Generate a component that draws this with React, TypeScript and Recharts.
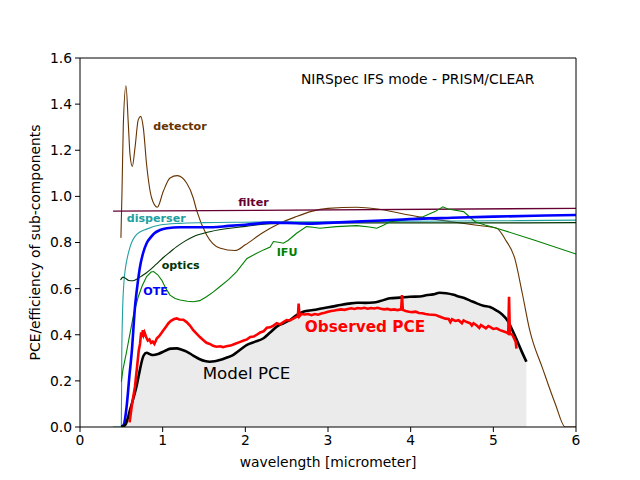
import React from "react";
import {
  ComposedChart,
  Line,
  Area,
  XAxis,
  YAxis,
  ReferenceLine,
  ReferenceDot,
  Customized,
} from "recharts";

const xTicks = [0, 1, 2, 3, 4, 5, 6];
const yTicks = [0, 0.2, 0.4, 0.6, 0.8, 1.0, 1.2, 1.4, 1.6];

type P = [number, number];

const detectorPts: P[] = [
  [0.495, 0.82], [0.508, 1.02], [0.524, 1.31], [0.556, 1.48], [0.585, 1.31],
  [0.605, 1.181], [0.633, 1.13], [0.665, 1.21], [0.705, 1.333], [0.734, 1.347],
  [0.766, 1.297], [0.806, 1.137], [0.867, 0.993], [0.935, 0.953], [1.008, 1.022],
  [1.089, 1.08], [1.177, 1.09], [1.29, 1.058], [1.37, 0.993], [1.41, 0.94],
  [1.53, 0.834], [1.69, 0.776], [1.875, 0.765], [2.0, 0.79], [2.2, 0.84],
  [2.4, 0.88], [2.6, 0.91], [2.8, 0.935], [3.0, 0.948], [3.35, 0.953],
  [3.6, 0.945], [3.9, 0.925], [4.2, 0.905], [4.5, 0.89], [4.8, 0.875],
  [5.04, 0.862], [5.15, 0.81], [5.26, 0.73], [5.35, 0.58], [5.44, 0.42],
  [5.6, 0.25], [5.75, 0.1], [5.87, 0.0], [6.0, 0.0],
];

const filterPts: P[] = [
  [0.4, 0.936], [6.0, 0.948],
];

const disperserPts: P[] = [
  [0.4, 0], [0.5, 0], [0.505, 0.3], [0.515, 0.5], [0.53, 0.62], [0.55, 0.69],
  [0.57, 0.73], [0.605, 0.78], [0.686, 0.835], [0.806, 0.858], [0.968, 0.876],
  [1.2, 0.883], [1.5, 0.886], [2.0, 0.888], [3.0, 0.89], [4.0, 0.892],
  [5.0, 0.894], [6.0, 0.897],
];

const opticsPts: P[] = [
  [0.49, 0.638], [0.52, 0.65], [0.55, 0.645], [0.59, 0.635], [0.64, 0.634],
  [0.69, 0.642], [0.746, 0.655], [0.8, 0.668], [0.847, 0.681], [0.92, 0.705],
  [1.008, 0.735], [1.1, 0.762], [1.17, 0.782], [1.27, 0.806], [1.37, 0.825],
  [1.57, 0.847], [1.975, 0.869], [2.38, 0.883], [3.0, 0.885], [4.0, 0.885],
  [5.0, 0.885], [6.0, 0.886],
];

const ifuPts: P[] = [
  [0.5, 0.196], [0.52, 0.25], [0.56, 0.32], [0.605, 0.406], [0.65, 0.49],
  [0.705, 0.565], [0.75, 0.61], [0.806, 0.652], [0.86, 0.672], [0.89, 0.674],
  [0.94, 0.66], [0.988, 0.637], [1.04, 0.6], [1.089, 0.572], [1.15, 0.557],
  [1.21, 0.551], [1.3, 0.545], [1.37, 0.543], [1.45, 0.548], [1.53, 0.565],
  [1.61, 0.585], [1.69, 0.608], [1.8, 0.64], [1.895, 0.674], [2.02, 0.731],
  [2.12, 0.75], [2.22, 0.768], [2.3, 0.78], [2.34, 0.804], [2.42, 0.8],
  [2.46, 0.797], [2.52, 0.81], [2.62, 0.84], [2.74, 0.869], [2.82, 0.866],
  [2.9, 0.862], [3.1, 0.869], [3.35, 0.873], [3.5, 0.867], [3.59, 0.862],
  [3.67, 0.875], [3.75, 0.89], [3.99, 0.9], [4.15, 0.912], [4.3, 0.935],
  [4.39, 0.955], [4.45, 0.945], [4.52, 0.941], [4.64, 0.934], [4.7, 0.915],
  [4.78, 0.89], [4.9, 0.876], [5.04, 0.862], [5.5, 0.81], [6.0, 0.75],
];

const otePts: P[] = [
  [0.5, 0], [0.53, 0.01], [0.564, 0.088], [0.6, 0.23], [0.625, 0.32],
  [0.665, 0.52], [0.7, 0.63], [0.726, 0.695], [0.76, 0.75], [0.806, 0.797],
  [0.85, 0.82], [0.9, 0.84], [0.968, 0.854], [1.05, 0.862], [1.21, 0.866],
  [1.4, 0.866], [1.61, 0.866], [1.8, 0.872], [2.0, 0.877], [2.3, 0.886],
  [2.5, 0.885], [2.78, 0.882], [3.0, 0.885], [3.5, 0.893], [3.9, 0.9],
  [4.5, 0.907], [5.0, 0.912], [5.5, 0.916], [6.0, 0.919],
];

const modelPts: P[] = [
  [0.5, 0], [0.55, 0.01], [0.605, 0.074], [0.65, 0.13], [0.686, 0.18],
  [0.72, 0.24], [0.746, 0.283], [0.77, 0.31], [0.806, 0.322], [0.85, 0.315],
  [0.887, 0.312], [0.947, 0.317], [1.0, 0.325], [1.049, 0.334], [1.1, 0.34],
  [1.17, 0.341], [1.23, 0.335], [1.29, 0.327], [1.37, 0.31], [1.45, 0.294],
  [1.51, 0.286], [1.57, 0.283], [1.63, 0.285], [1.69, 0.29], [1.77, 0.3],
  [1.85, 0.312], [1.93, 0.333], [2.02, 0.356], [2.12, 0.37], [2.22, 0.385],
  [2.3, 0.41], [2.38, 0.435], [2.46, 0.45], [2.54, 0.464], [2.62, 0.485],
  [2.7, 0.5], [2.82, 0.507], [2.94, 0.515], [3.05, 0.522], [3.15, 0.529],
  [3.25, 0.535], [3.35, 0.539], [3.45, 0.538], [3.55, 0.54], [3.63, 0.546],
  [3.75, 0.558], [3.87, 0.561], [3.99, 0.565], [4.11, 0.566], [4.2, 0.572],
  [4.27, 0.575], [4.35, 0.582], [4.43, 0.58], [4.52, 0.573], [4.58, 0.566],
  [4.64, 0.56], [4.72, 0.548], [4.8, 0.536], [4.88, 0.526], [4.96, 0.52],
  [5.04, 0.505], [5.1, 0.49], [5.18, 0.457], [5.23, 0.42], [5.28, 0.38],
  [5.34, 0.33], [5.4, 0.283],
];

const observedPts: P[] = [
  [0.6, 0.02], [0.63, 0.1], [0.665, 0.175], [0.69, 0.26], [0.71, 0.33],
  [0.726, 0.36], [0.74, 0.41], [0.75, 0.39], [0.76, 0.42], [0.77, 0.4],
  [0.78, 0.41], [0.8, 0.39], [0.82, 0.375], [0.84, 0.38], [0.86, 0.365],
  [0.88, 0.37], [0.9, 0.36], [0.93, 0.385], [0.96, 0.395], [1.0, 0.415],
  [1.04, 0.435], [1.07, 0.45], [1.1, 0.46], [1.14, 0.468], [1.17, 0.471],
  [1.2, 0.466], [1.25, 0.465], [1.29, 0.455], [1.33, 0.44], [1.37, 0.42],
  [1.41, 0.405], [1.45, 0.39], [1.49, 0.377], [1.53, 0.365], [1.57, 0.36],
  [1.61, 0.352], [1.65, 0.348], [1.7, 0.35], [1.73, 0.346], [1.77, 0.35],
  [1.82, 0.353], [1.87, 0.36], [1.93, 0.368], [1.98, 0.375], [2.02, 0.38],
  [2.06, 0.39], [2.1, 0.392], [2.14, 0.4], [2.18, 0.41], [2.22, 0.415],
  [2.26, 0.43], [2.3, 0.432], [2.34, 0.44], [2.38, 0.45], [2.42, 0.445],
  [2.46, 0.455], [2.5, 0.464], [2.54, 0.462], [2.58, 0.47], [2.62, 0.478],
  [2.635, 0.478], [2.645, 0.535], [2.655, 0.48], [2.68, 0.49], [2.72, 0.488],
  [2.76, 0.49], [2.8, 0.485], [2.84, 0.49], [2.88, 0.487], [2.92, 0.492],
  [2.96, 0.495], [3.0, 0.5], [3.04, 0.503], [3.08, 0.505], [3.12, 0.508],
  [3.16, 0.51], [3.2, 0.508], [3.24, 0.512], [3.28, 0.515], [3.32, 0.512],
  [3.36, 0.516], [3.4, 0.514], [3.44, 0.517], [3.48, 0.513], [3.52, 0.516],
  [3.56, 0.514], [3.6, 0.517], [3.64, 0.513], [3.68, 0.51], [3.72, 0.512],
  [3.76, 0.508], [3.8, 0.51], [3.84, 0.507], [3.885, 0.51], [3.895, 0.572],
  [3.905, 0.508], [3.94, 0.503], [3.98, 0.5], [4.02, 0.498], [4.06, 0.5],
  [4.1, 0.494], [4.14, 0.493], [4.18, 0.49], [4.22, 0.488], [4.26, 0.487],
  [4.3, 0.486], [4.34, 0.48], [4.38, 0.475], [4.42, 0.47], [4.46, 0.468],
  [4.48, 0.455], [4.5, 0.467], [4.54, 0.46], [4.58, 0.463], [4.62, 0.45],
  [4.64, 0.462], [4.68, 0.455], [4.72, 0.45], [4.74, 0.44], [4.76, 0.45],
  [4.8, 0.44], [4.83, 0.43], [4.85, 0.442], [4.88, 0.435], [4.91, 0.428],
  [4.94, 0.438], [4.97, 0.432], [5.0, 0.425], [5.04, 0.428], [5.08, 0.42],
  [5.12, 0.415], [5.16, 0.41], [5.18, 0.405], [5.19, 0.565], [5.2, 0.405],
  [5.23, 0.4], [5.25, 0.385], [5.27, 0.37], [5.28, 0.34],
];

type Lbl = { text: string; x: number; y: number; color: string; size: number; bold: boolean };
const labels: Lbl[] = [
  { text: "NIRSpec IFS mode - PRISM/CLEAR", x: 2.673, y: 1.487, color: "#000000", size: 13.89, bold: false },
  { text: "detector", x: 0.887, y: 1.289, color: "#663300", size: 11.11, bold: true },
  { text: "filter", x: 1.915, y: 0.96, color: "#660033", size: 11.11, bold: true },
  { text: "disperser", x: 0.565, y: 0.89, color: "#22a0a0", size: 11.11, bold: true },
  { text: "optics", x: 0.988, y: 0.685, color: "#003300", size: 11.11, bold: true },
  { text: "IFU", x: 2.379, y: 0.742, color: "#008000", size: 11.11, bold: true },
  { text: "OTE", x: 0.766, y: 0.571, color: "#0000ff", size: 11.11, bold: true },
  { text: "Observed PCE", x: 2.72, y: 0.413, color: "#ff0000", size: 15.28, bold: true },
  { text: "Model PCE", x: 1.484, y: 0.208, color: "#000000", size: 16.67, bold: false },
];

const toData = (pts: P[]) => pts.map(([x, y]) => ({ x, y }));

const FONT = "DejaVu Sans, sans-serif";

const AxisTitles = () => (
  <g>
    <text x={328} y={467} textAnchor="middle" fontFamily={FONT} fontSize={13.89} fill="#000">
      wavelength [micrometer]
    </text>
    <text
      x={0}
      y={0}
      transform="translate(40,242.5) rotate(-90)"
      textAnchor="middle"
      fontFamily={FONT}
      fontSize={13.89}
      fill="#000"
    >
      PCE/efficiency of sub-components
    </text>
  </g>
);

export default function App() {
  const tickStyle = { fill: "#000", fontSize: 13.89, fontFamily: FONT };
  return (
    <div style={{ position: "absolute", left: 0, top: 0, width: 640, height: 480, background: "#fff" }}>
      <ComposedChart width={640} height={480} margin={{ top: 58, right: 64, bottom: 23, left: 20 }}>
        <XAxis
          type="number"
          dataKey="x"
          domain={[0, 6]}
          ticks={xTicks}
          allowDataOverflow
          height={30}
          tickSize={5}
          tickMargin={3}
          stroke="#000"
          tick={tickStyle}
          tickLine={{ stroke: "#000" }}
          axisLine={{ stroke: "#000" }}
        />
        <YAxis
          type="number"
          domain={[0, 1.6]}
          ticks={yTicks}
          allowDataOverflow
          width={60}
          tickSize={5}
          tickMargin={3}
          stroke="#000"
          tick={tickStyle}
          tickLine={{ stroke: "#000" }}
          axisLine={{ stroke: "#000" }}
          tickFormatter={(v: number) => v.toFixed(1)}
        />
        <Area
          data={toData(modelPts)}
          dataKey="y"
          type="monotone"
          stroke="none"
          fill="#ebebeb"
          fillOpacity={1}
          isAnimationActive={false}
        />
        <Line data={toData(detectorPts)} dataKey="y" type="monotone" stroke="#663300" strokeWidth={1.1} dot={false} isAnimationActive={false} />
        <Line data={toData(filterPts)} dataKey="y" type="linear" stroke="#660033" strokeWidth={1.3} dot={false} isAnimationActive={false} />
        <Line data={toData(disperserPts)} dataKey="y" type="monotone" stroke="#22a0a0" strokeWidth={1.1} dot={false} isAnimationActive={false} />
        <Line data={toData(opticsPts)} dataKey="y" type="monotone" stroke="#003300" strokeWidth={1.1} dot={false} isAnimationActive={false} />
        <Line data={toData(ifuPts)} dataKey="y" type="linear" stroke="#008000" strokeWidth={1.1} dot={false} isAnimationActive={false} />
        <Line data={toData(otePts)} dataKey="y" type="monotone" stroke="#0000ff" strokeWidth={2.6} dot={false} isAnimationActive={false} />
        <Line data={toData(modelPts)} dataKey="y" type="monotone" stroke="#000000" strokeWidth={2.6} dot={false} isAnimationActive={false} />
        <Line data={toData(observedPts)} dataKey="y" type="linear" stroke="#ff0000" strokeWidth={2.6} dot={false} isAnimationActive={false} />
        <ReferenceLine y={1.6} stroke="#000" strokeWidth={1} />
        <ReferenceLine x={6} stroke="#000" strokeWidth={1} />
        {labels.map((l) => (
          <ReferenceDot
            key={l.text}
            x={l.x}
            y={l.y}
            r={0}
            shape={(p: any) => (
              <text
                x={p.cx}
                y={p.cy}
                fill={l.color}
                fontSize={l.size}
                fontWeight={l.bold ? "bold" : "normal"}
                fontFamily={FONT}
              >
                {l.text}
              </text>
            )}
          />
        ))}
        <Customized component={AxisTitles} />
      </ComposedChart>
    </div>
  );
}
